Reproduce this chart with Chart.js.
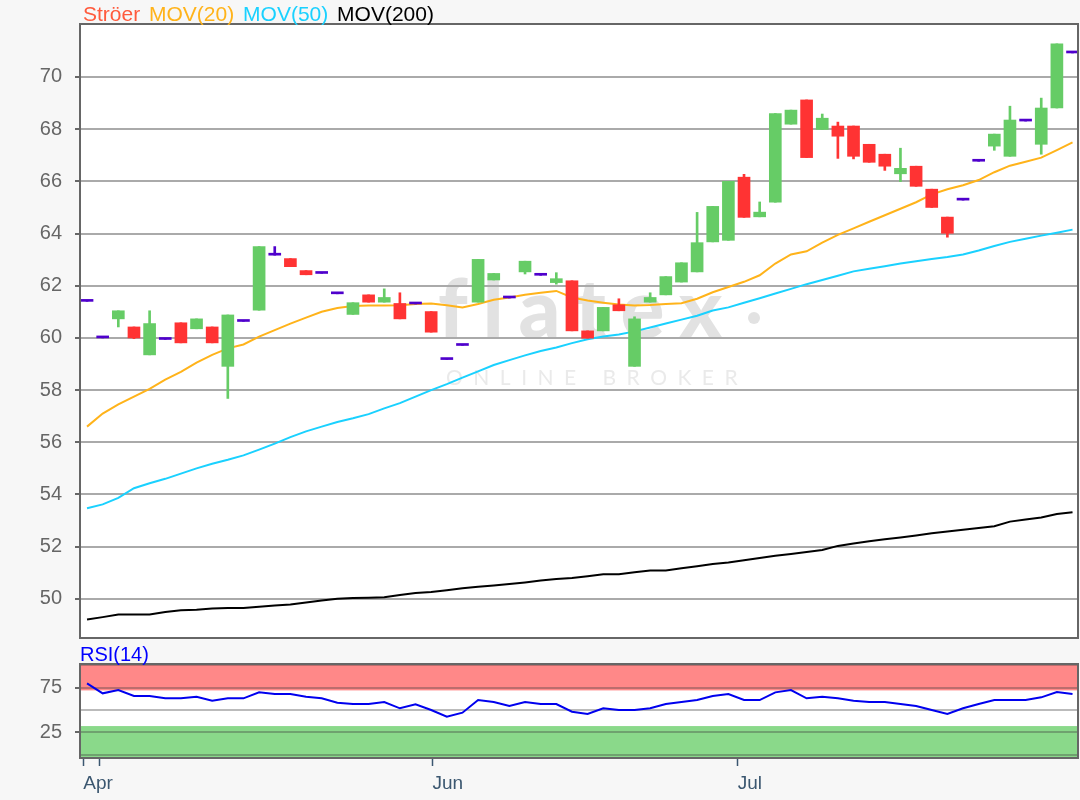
<!DOCTYPE html>
<html>
<head>
<meta charset="utf-8">
<script src="https://cdn.jsdelivr.net/npm/chart.js@4.4.1/dist/chart.umd.min.js"></script>
<style>
  body { margin: 0; background: #f7f7f7; font-family: "Liberation Sans", Arial, sans-serif; }
  #wrap { position: relative; width: 1080px; height: 800px; overflow: hidden; }
  #priceChart { position: absolute; left: 0; top: 0; }
  #rsiChart { position: absolute; left: 0; top: 640px; }
  .legend { position: absolute; left: 83px; top: 3px; font-size: 21px; line-height: 21px; word-spacing: 3px; white-space: pre; }
  .rsi-label { position: absolute; left: 80px; top: 644px; font-size: 20px; line-height: 20px; color: #0000ff; }
</style>
</head>
<body>
<div id="wrap">
  <canvas id="priceChart" width="1080" height="640"></canvas>
  <canvas id="rsiChart" width="1080" height="160"></canvas>
  <div class="legend"><span style="color:#ff5a3c">Ströer</span> <span style="color:#ffb31a">MOV(20)</span> <span style="color:#1ad1ff">MOV(50)</span> <span style="color:#000">MOV(200)</span></div>
  <div class="rsi-label">RSI(14)</div>
</div>
<script>
// daily candles
var opens = [61.40, 60.00, 60.73, 60.42, 59.35, 59.94, 60.58, 60.35, 60.42, 58.91,
  60.63, 61.06, 63.17, 63.04, 62.58, 62.47, 61.69, 60.90, 61.65, 61.37,
  61.32, 61.30, 61.01, 59.17, 59.71, 61.37, 62.22, 61.53, 62.53, 62.40,
  62.12, 62.19, 60.27, 60.27, 61.27, 58.91, 61.37, 61.65, 62.14, 62.53,
  63.68, 63.74, 66.16, 64.64, 65.20, 68.19, 69.12, 67.99, 68.12, 68.12,
  67.42, 67.04, 66.29, 66.58, 65.70, 64.63, 65.28, 66.77, 67.35, 66.96,
  68.31, 67.42, 68.81, 70.92];
var closes = [61.40, 60.00, 61.04, 60.00, 60.55, 59.94, 59.81, 60.73, 59.81, 60.88,
  60.63, 63.50, 63.17, 62.73, 62.42, 62.47, 61.69, 61.35, 61.37, 61.55,
  60.73, 61.30, 60.22, 59.17, 59.71, 63.01, 62.47, 61.53, 62.94, 62.40,
  62.27, 60.27, 59.99, 61.17, 61.04, 60.73, 61.55, 62.35, 62.88, 63.65,
  65.04, 66.00, 64.62, 64.82, 68.60, 68.73, 66.91, 68.42, 67.73, 66.96,
  66.73, 66.58, 66.50, 65.81, 65.00, 64.01, 65.28, 66.77, 67.81, 68.35,
  68.31, 68.81, 71.27, 70.92];
var highs = [61.40, 60.00, 61.04, 60.42, 61.04, 59.94, 60.58, 60.73, 60.42, 60.88,
  60.63, 63.50, 63.50, 63.04, 62.58, 62.47, 61.69, 61.35, 61.65, 61.88,
  61.73, 61.30, 61.01, 59.17, 59.71, 63.01, 62.47, 61.53, 62.94, 62.40,
  62.50, 62.19, 60.27, 61.17, 61.50, 60.81, 61.73, 62.35, 62.88, 64.81,
  65.04, 66.00, 66.27, 65.21, 68.60, 68.73, 69.12, 68.58, 68.27, 68.12,
  67.42, 67.04, 67.27, 66.58, 65.70, 64.63, 65.28, 66.77, 67.81, 68.88,
  68.31, 69.19, 71.27, 70.92];
var lows = [61.40, 60.00, 60.42, 59.97, 59.35, 59.94, 59.81, 60.35, 59.81, 57.68,
  60.63, 61.06, 63.17, 62.73, 62.42, 62.47, 61.69, 60.90, 61.37, 61.37,
  60.73, 61.30, 60.22, 59.17, 59.71, 61.37, 62.22, 61.53, 62.45, 62.40,
  62.06, 60.27, 59.99, 60.27, 61.04, 58.91, 61.37, 61.65, 62.14, 62.53,
  63.68, 63.74, 64.62, 64.64, 65.20, 68.19, 66.91, 67.99, 66.88, 66.86,
  66.73, 66.42, 65.99, 65.81, 65.00, 63.86, 65.28, 66.77, 67.19, 66.96,
  68.31, 67.04, 68.81, 70.92];

var mov20 = [56.60, 57.10, 57.45, 57.75, 58.05, 58.40, 58.70, 59.05, 59.35, 59.60,
  59.75, 60.05, 60.30, 60.55, 60.78, 61.00, 61.15, 61.22, 61.24, 61.24,
  61.25, 61.30, 61.32, 61.25, 61.17, 61.30, 61.46, 61.55, 61.65, 61.73,
  61.80, 61.55, 61.43, 61.35, 61.28, 61.24, 61.26, 61.30, 61.33, 61.50,
  61.75, 61.95, 62.15, 62.40, 62.85, 63.20, 63.32, 63.65, 63.95, 64.20,
  64.45, 64.70, 64.95, 65.20, 65.50, 65.70, 65.85, 66.05, 66.35, 66.60,
  66.75, 66.91, 67.20, 67.49];
var mov50 = [53.47, 53.62, 53.87, 54.24, 54.43, 54.60, 54.80, 55.00, 55.18, 55.33,
  55.50, 55.72, 55.95, 56.20, 56.42, 56.60, 56.78, 56.92, 57.08, 57.30,
  57.50, 57.75, 58.00, 58.23, 58.48, 58.72, 58.96, 59.15, 59.33, 59.50,
  59.63, 59.80, 59.95, 60.05, 60.13, 60.25, 60.40, 60.55, 60.70, 60.85,
  61.05, 61.17, 61.35, 61.52, 61.70, 61.88, 62.06, 62.22, 62.38, 62.55,
  62.65, 62.75, 62.85, 62.94, 63.02, 63.10, 63.20, 63.35, 63.52, 63.68,
  63.80, 63.92, 64.03, 64.15];
var mov200 = [49.21, 49.30, 49.40, 49.40, 49.40, 49.50, 49.56, 49.58, 49.63, 49.65,
  49.65, 49.70, 49.75, 49.78, 49.86, 49.94, 50.00, 50.03, 50.04, 50.06,
  50.15, 50.22, 50.26, 50.33, 50.41, 50.46, 50.51, 50.57, 50.63, 50.70,
  50.76, 50.80, 50.87, 50.94, 50.94, 51.02, 51.09, 51.09, 51.17, 51.25,
  51.34, 51.39, 51.48, 51.57, 51.65, 51.72, 51.80, 51.87, 52.03, 52.12,
  52.21, 52.28, 52.35, 52.43, 52.51, 52.58, 52.65, 52.72, 52.78, 52.96,
  53.04, 53.12, 53.25, 53.32];

var rsi = [79.9, 68.7, 72.4, 65.7, 65.7, 63.1, 63.1, 64.9, 60.4, 63.1,
  63.1, 69.8, 67.9, 67.9, 64.9, 63.1, 58.2, 56.7, 56.7, 59.0,
  51.9, 56.3, 50.0, 42.5, 47.0, 61.2, 59.0, 54.5, 59.0, 56.7,
  56.7, 48.1, 45.5, 51.9, 50.0, 50.0, 51.9, 56.7, 59.0, 61.2,
  65.7, 67.9, 61.2, 61.2, 69.8, 72.4, 63.1, 64.9, 63.1, 60.4,
  59.0, 59.0, 56.7, 54.5, 50.0, 45.5, 51.9, 56.7, 61.2, 61.2,
  61.2, 64.2, 70.2, 67.9];

var priceTicks = [50, 52, 54, 56, 58, 60, 62, 64, 66, 68, 70];
var rsiGrid = [0, 25, 50, 75, 100];
var rsiLabels = [25, 75];
var rsiOverbought = 72;
var rsiOversold = 32;

// month ticks (positions in candle units) and their labels
var monthTickPos = [-0.24, 0.77, 22.08, 41.6];
var monthTickLabels = ["Apr", "", "Jun", "Jul"];

var xMin = -0.45, xMax = 63.35;

function candleColor(i) {
  if (closes[i] > opens[i]) return "#66cc66";
  if (closes[i] < opens[i]) return "#ff3333";
  return "#4f00cc";
}
var colors = opens.map((o, i) => candleColor(i));
var asPoints = (arr) => arr.map((v, i) => ({ x: i, y: v }));

// white plot area, watermark / RSI zones, all behind the grid
const plotBackground = {
  id: "plotBackground",
  beforeDraw(chart, args, opts) {
    const { ctx, chartArea: a } = chart;
    const w = a.right - a.left;
    ctx.save();
    ctx.fillStyle = "#ffffff";
    ctx.fillRect(a.left, a.top, w, a.bottom - a.top);
    if (opts.watermark) {
      ctx.fillStyle = "#e2e2e2";
      ctx.font = "900 82px Lato";
      ctx.letterSpacing = "15px";
      ctx.textBaseline = "alphabetic";
      ctx.fillText("flatex", 438, 338);
      ctx.beginPath();
      ctx.arc(754, 318, 6, 0, Math.PI * 2);
      ctx.fill();
      ctx.fillStyle = "#eaeaea";
      ctx.font = "21px Lato";
      ctx.letterSpacing = "10.5px";
      ctx.fillText("ONLINE BROKER", 446, 385);
    }
    if (opts.bands) {
      const y = chart.scales.y;
      const ob = y.getPixelForValue(rsiOverbought);
      const os = y.getPixelForValue(rsiOversold);
      ctx.fillStyle = "#ff8888";
      ctx.fillRect(a.left, a.top, w, ob - a.top);
      ctx.fillStyle = "#8ad98a";
      ctx.fillRect(a.left, os, w, a.bottom - os);
    }
    ctx.restore();
  }
};

const frame = {
  id: "frame",
  afterDraw(chart) {
    const { ctx, chartArea: a } = chart;
    ctx.save();
    ctx.strokeStyle = "#666666";
    ctx.lineWidth = 2;
    ctx.strokeRect(a.left, a.top, a.right - a.left, a.bottom - a.top);
    ctx.restore();
  }
};

// fixed axis width, and no extra room for half-labels at the ends
function fitY(scale) {
  scale.width = 80;
  scale.paddingTop = 0;
  scale.paddingBottom = 0;
}

Chart.defaults.font.family = '"Liberation Sans", Arial, sans-serif';
Chart.defaults.animation = false;

new Chart(document.getElementById("priceChart"), {
  type: "bar",
  data: {
    datasets: [
      {
        label: "body",
        data: opens.map((o, i) => ({ x: i, y: [o, closes[i]] })),
        backgroundColor: colors,
        barThickness: 12,
        minBarLength: 2,
        grouped: false,
        order: 1,
      },
      {
        label: "wick",
        data: lows.map((l, i) => ({ x: i, y: [l, highs[i]] })),
        backgroundColor: colors,
        barThickness: 2,
        grouped: false,
        order: 2,
      },
      { type: "line", label: "MOV(20)", data: asPoints(mov20), borderColor: "#ffb31a", borderWidth: 2, pointRadius: 0, order: 3 },
      { type: "line", label: "MOV(50)", data: asPoints(mov50), borderColor: "#1ad1ff", borderWidth: 2, pointRadius: 0, order: 4 },
      { type: "line", label: "MOV(200)", data: asPoints(mov200), borderColor: "#000000", borderWidth: 2, pointRadius: 0, order: 5 },
    ],
  },
  options: {
    responsive: false,
    devicePixelRatio: 1,
    layout: { padding: { top: 24, right: 2, bottom: 2, left: 0 } },
    plugins: {
      legend: { display: false },
      tooltip: { enabled: false },
      plotBackground: { watermark: true },
    },
    scales: {
      x: { type: "linear", min: xMin, max: xMax, offset: false, display: false },
      y: {
        min: 48.5,
        max: 72.03,
        afterBuildTicks: (scale) => { scale.ticks = priceTicks.map((v) => ({ value: v })); },
        afterFit: fitY,
        border: { display: false },
        grid: { color: "#aaaaaa", lineWidth: 2, tickLength: 5, tickColor: "#666666", tickWidth: 2 },
        ticks: { autoSkip: false, color: "#666666", padding: 13, font: { size: 20 } },
      },
    },
  },
  plugins: [plotBackground, frame],
});

new Chart(document.getElementById("rsiChart"), {
  type: "line",
  data: {
    datasets: [
      { label: "RSI(14)", data: asPoints(rsi), borderColor: "#0000ee", borderWidth: 2, pointRadius: 0 },
    ],
  },
  options: {
    responsive: false,
    devicePixelRatio: 1,
    layout: { padding: { top: 24, right: 2, bottom: 0, left: 0 } },
    plugins: {
      legend: { display: false },
      tooltip: { enabled: false },
      plotBackground: { bands: true },
    },
    scales: {
      x: {
        type: "linear",
        min: xMin,
        max: xMax,
        offset: false,
        afterBuildTicks: (scale) => { scale.ticks = monthTickPos.map((v) => ({ value: v })); },
        afterFit: (scale) => { scale.height = 42; },
        border: { display: false },
        grid: { drawOnChartArea: false, tickLength: 8, tickColor: "#3b5770", tickWidth: 1.5 },
        ticks: {
          autoSkip: false,
          maxRotation: 0,
          align: "start",
          padding: 6,
          color: "#3b5770",
          font: { size: 19 },
          callback: (v, i) => monthTickLabels[i],
        },
      },
      y: {
        min: -3.8,
        max: 101.6,
        afterBuildTicks: (scale) => { scale.ticks = rsiGrid.map((v) => ({ value: v })); },
        afterFit: fitY,
        border: { display: false },
        grid: {
          color: "rgba(60,60,60,0.35)",
          lineWidth: 2,
          tickLength: 5,
          tickWidth: 2,
          tickColor: (c) => (rsiLabels.includes(c.tick.value) ? "#666666" : "rgba(0,0,0,0)"),
        },
        ticks: {
          autoSkip: false,
          color: "#666666",
          padding: 13,
          font: { size: 20 },
          callback: (v) => (rsiLabels.includes(v) ? v : ""),
        },
      },
    },
  },
  plugins: [plotBackground, frame],
});
</script>
</body>
</html>
